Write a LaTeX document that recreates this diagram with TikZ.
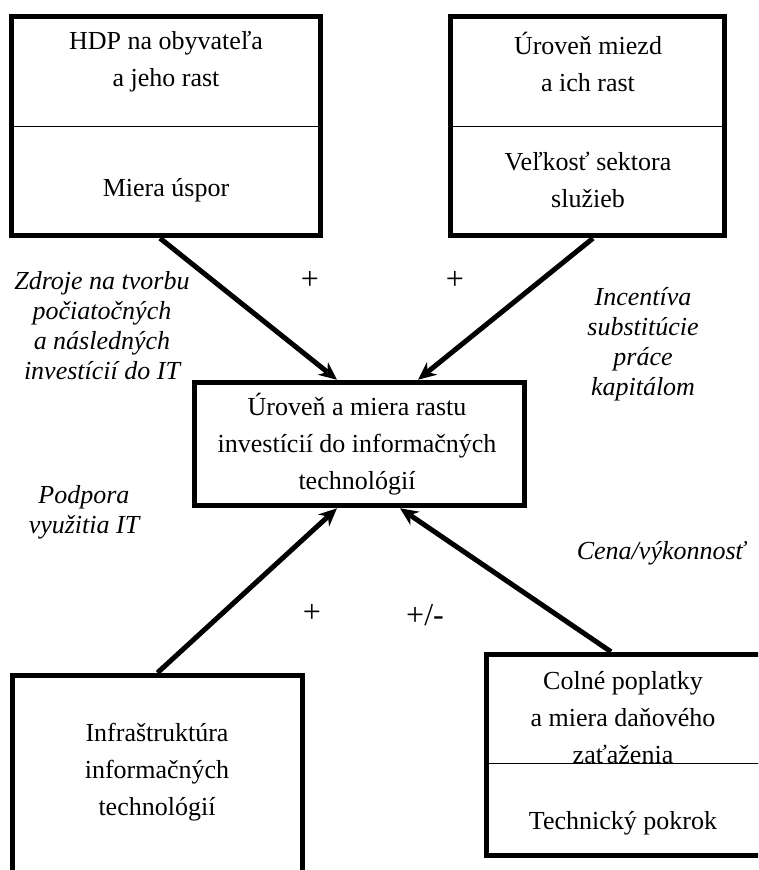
\documentclass[tikz,border=0pt]{standalone}
\usepackage{fontspec}
\setmainfont{Liberation Serif}
\usepackage{tikz}
\usetikzlibrary{arrows.meta}

\begin{document}
\begin{tikzpicture}[x=1pt, y=-1pt,
  box/.style={draw, line width=5.5pt, inner sep=0pt},
  txt/.style={align=center, font=\fontsize{26}{37}\selectfont},
  lab/.style={align=center, font=\fontsize{26}{30}\selectfont\itshape},
  sgn/.style={font=\fontsize{32}{36}\selectfont},
  arr/.style={line width=5pt, -{Stealth[length=18pt,width=16pt]}},
  sep/.style={line width=1pt}
]
\clip (0,0) rectangle (758,870);
% boxes
\node[box, minimum width=309pt, minimum height=219pt] (hdp) at (166,126) {};
\node[box, minimum width=274pt, minimum height=219pt] (mzdy) at (587.5,126) {};
\node[box, minimum width=330pt, minimum height=123pt] (inv) at (359.5,444) {};
\node[box, minimum width=290pt, minimum height=227pt] (infra) at (157.5,789) {};
\node[box, minimum width=281pt, minimum height=201pt] (clo) at (627,755) {};
\draw[sep] (hdp.west |- 0,126) -- (hdp.east |- 0,126);
\draw[sep] (mzdy.west |- 0,126) -- (mzdy.east |- 0,126);
\draw[sep] (clo.west |- 0,763) -- (clo.east |- 0,763);

% texts in boxes
\node[txt] (hdpa) at (166,62) {HDP na obyvateľa\\a jeho rast};
\node[txt] (hdpb) at (166,190) {Miera úspor};
\node[txt] (mzdya) at (588,62) {Úroveň miezd\\a ich rast};
\node[txt] (mzdyb) at (588,180) {Veľkosť sektora\\služieb};
\node[txt] (invt) at (357,444) {Úroveň a miera rastu\\investícií do informačných\\technológií};
\node[txt] (infrat) at (157,772) {Infraštruktúra\\informačných\\technológií};
\node[txt] (cloa) at (623,718) {Colné poplatky\\a miera daňového\\zaťaženia};
\node[txt] (clob) at (623,823) {Technický pokrok};

% connectors
\draw[arr] ([xshift=-6pt]hdp.south) -- ([xshift=-22.5pt]inv.north);
\draw[arr] ([xshift=5.5pt]mzdy.south) -- ([xshift=58.5pt]inv.north);
\draw[arr] (infra.north) -- ([xshift=-22.5pt]inv.south);
\draw[arr] ([xshift=-16pt]clo.north) -- ([xshift=40.5pt]inv.south);

% labels
\node[lab] (zdroje) at (102,326) {Zdroje na tvorbu\\počiatočných\\a následných\\investícií do IT};
\node[lab] (incent) at (643,344) {Incentíva\\substitúcie\\práce\\kapitálom};
\node[lab] (podpora) at (84,512) {Podpora\\využitia IT};
\node[lab] (cena) at (661,553) {Cena/výkonnosť};
\foreach \i/\x/\y/\s in {1/310/280/+, 2/455/280/+, 3/312/613/+, 4/425/615/{+/-}} {
  \node[sgn] (sgn\i) at (\x,\y) {\s};
}
\end{tikzpicture}
\end{document}
